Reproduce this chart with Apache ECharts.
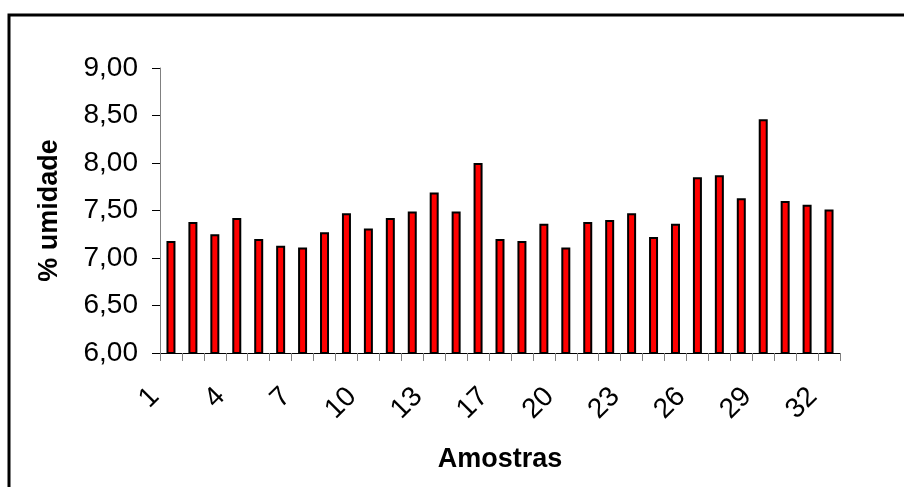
<!DOCTYPE html>
<html>
<head>
<meta charset="utf-8">
<script src="https://cdn.jsdelivr.net/npm/echarts@6/dist/echarts.min.js"></script>
<style>
html,body{margin:0;padding:0;background:#fff;}
#chart{width:904px;height:487px;}
</style>
</head>
<body>
<div id="chart"></div>
<script>
var categories = ['1','2','3','4','5','6','7','8','9','10','11','12','13','14','15','17','18','19','20','21','22','23','24','25','26','27','28','29','30','31','32'];
var umidade = [7.18,7.38,7.25,7.42,7.20,7.13,7.11,7.27,7.47,7.31,7.42,7.49,7.69,7.49,8.00,7.20,7.18,7.36,7.11,7.38,7.40,7.47,7.22,7.36,7.85,7.87,7.63,8.46,7.60,7.56,7.51];
var yTicks = {min: 6, max: 9, interval: 0.5};
var xAxisTitle = 'Amostras';
var yAxisTitle = '% umidade';

var chart = echarts.init(document.getElementById('chart'), null, {renderer: 'canvas'});
var font = '"Liberation Sans", Arial, sans-serif';
chart.setOption({
  animation: false,
  backgroundColor: '#ffffff',
  graphic: [{
    type: 'rect',
    shape: {x: 9, y: 15, width: 1000, height: 1000},
    style: {fill: 'none', stroke: '#000', lineWidth: 3}
  }],
  grid: {left: 160, right: 64, top: 68, bottom: 134},
  xAxis: {
    type: 'category',
    data: categories,
    name: xAxisTitle,
    nameLocation: 'middle',
    nameGap: 93,
    nameTextStyle: {fontFamily: font, fontWeight: 'bold', fontSize: 27, color: '#000'},
    axisLine: {lineStyle: {color: '#000', width: 1}},
    axisTick: {show: true, interval: 0, length: 8, lineStyle: {color: '#808080'}},
    axisLabel: {
      interval: 2, rotate: 45, margin: 23,
      padding: [0, 23, 0, 0],
      fontFamily: font, fontSize: 28, color: '#000'
    },
    splitLine: {show: false}
  },
  yAxis: {
    type: 'value',
    min: yTicks.min, max: yTicks.max, interval: yTicks.interval,
    name: yAxisTitle,
    nameLocation: 'middle',
    nameGap: 97,
    nameTextStyle: {fontFamily: font, fontWeight: 'bold', fontSize: 27, color: '#000'},
    axisLine: {show: true, lineStyle: {color: '#808080', width: 1}},
    axisTick: {show: true, length: 8, lineStyle: {color: '#000'}},
    axisLabel: {
      margin: 22, fontFamily: font, fontSize: 28, color: '#000',
      formatter: function (v) { return v.toFixed(2).replace('.', ','); }
    },
    splitLine: {show: false}
  },
  series: [{
    type: 'bar',
    data: umidade,
    barWidth: 9,
    itemStyle: {color: '#ff0000', borderColor: '#000', borderWidth: 2}
  }]
});
</script>
</body>
</html>
